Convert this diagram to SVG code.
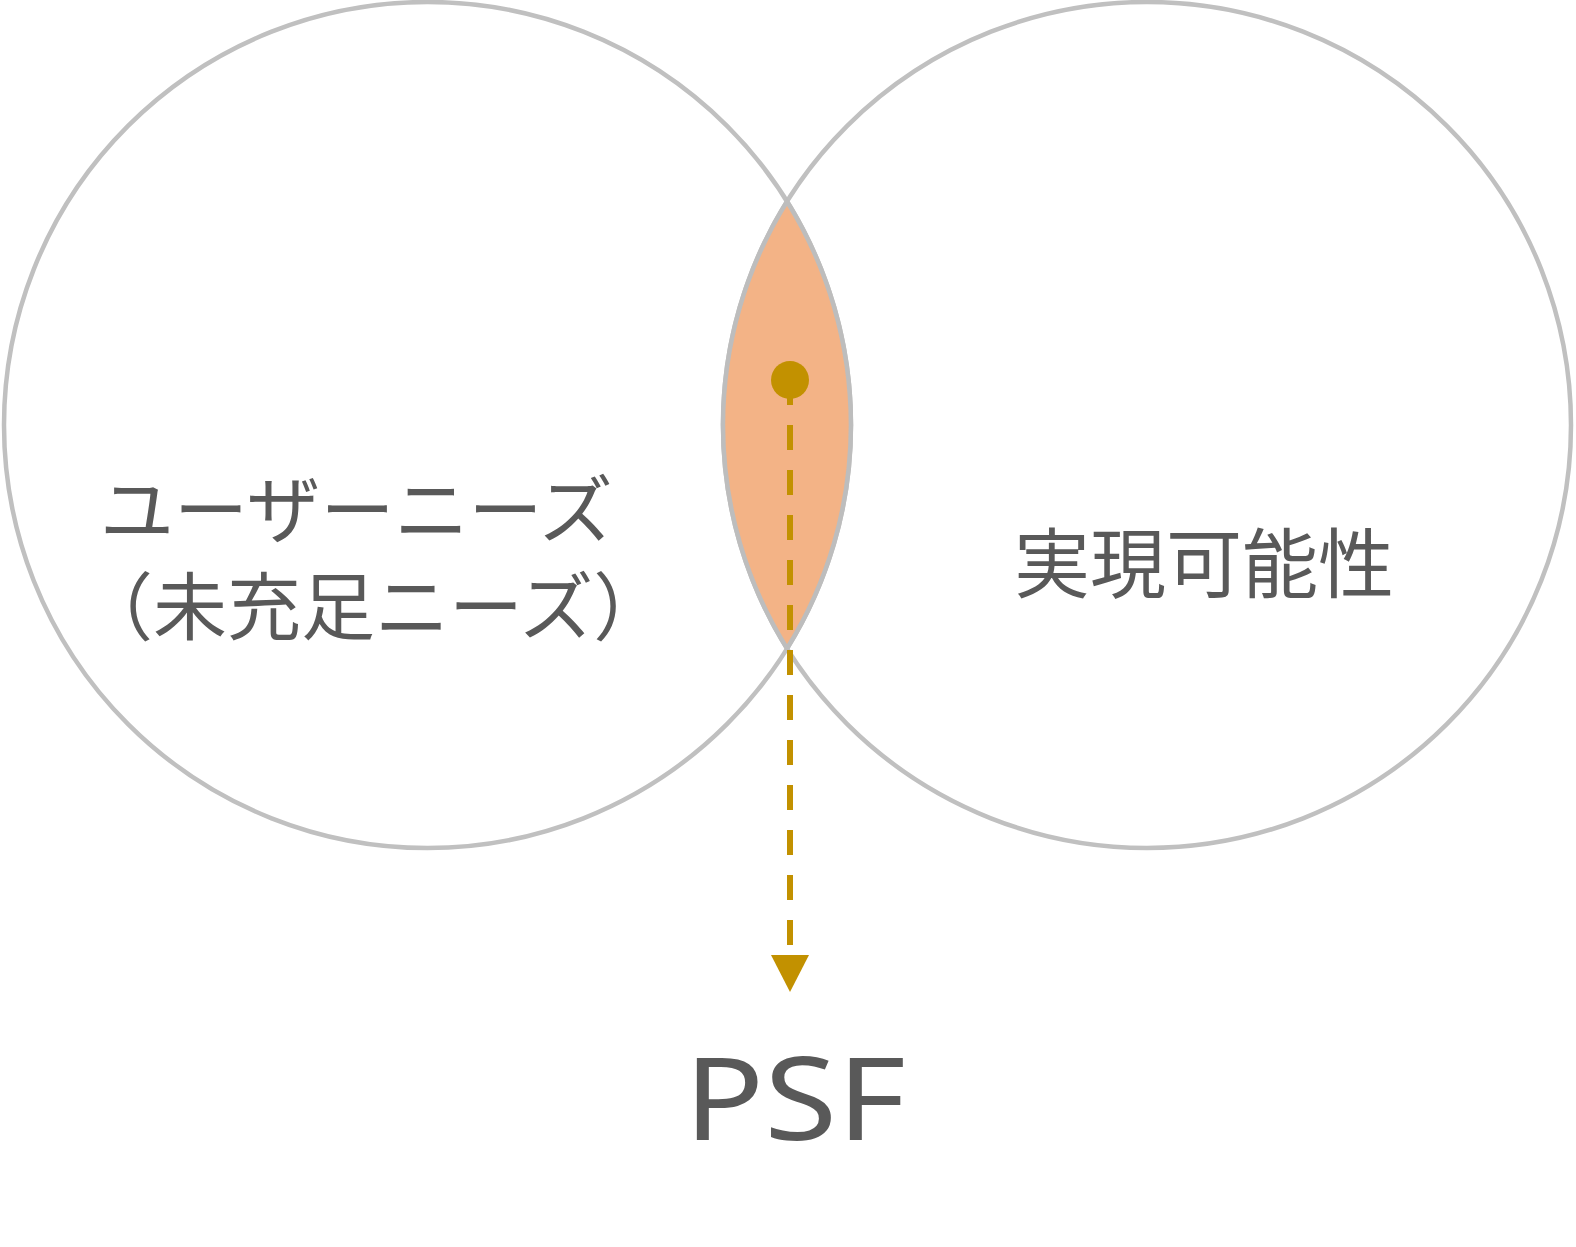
<svg xmlns="http://www.w3.org/2000/svg" width="1576" height="1247" viewBox="0 0 1576 1247">
<style>
.circle{fill:none;stroke:#C0C0C0;stroke-width:4.5}
.jp{font-family:"Noto Sans CJK JP","Noto Sans",sans-serif;font-size:74px;fill:#595959}
.en{font-family:"Noto Sans","Open Sans",sans-serif;font-size:116px;fill:#595959}
.conn{stroke:#C29100;stroke-width:6;stroke-dasharray:25 20;fill:none}
</style>
<rect width="1576" height="1247" fill="#ffffff"/>
<g id="user-needs">
<ellipse class="circle" cx="427.5" cy="425" rx="423.5" ry="423"/>
<text class="jp" x="100" y="537">ユーザーニーズ</text>
<text class="jp" x="79" y="634">（未充足ニーズ）</text>
</g>
<g id="feasibility">
<ellipse class="circle" cx="1147" cy="425" rx="424" ry="423"/>
<text class="jp" x="1014" y="592" style="font-size:76px">実現可能性</text>
</g>
<g id="overlap">
<path d="M787,201.5 A423.5,423 0 0 1 787,648.5 A424,423 0 0 1 787,201.5 Z" fill="#F3B386" stroke="#BDBDBD" stroke-width="4.5" stroke-linejoin="miter"/>
</g>
<g id="connectors">
<circle cx="790" cy="380" r="19" fill="#C29100"/>
<line class="conn" x1="790" y1="380" x2="790" y2="945"/>
<polygon points="771,955 809,955 790,992" fill="#C29100"/>
</g>
<g id="psf">
<text class="en" x="684" y="1140" textLength="222" lengthAdjust="spacingAndGlyphs">PSF</text>
</g>
</svg>
